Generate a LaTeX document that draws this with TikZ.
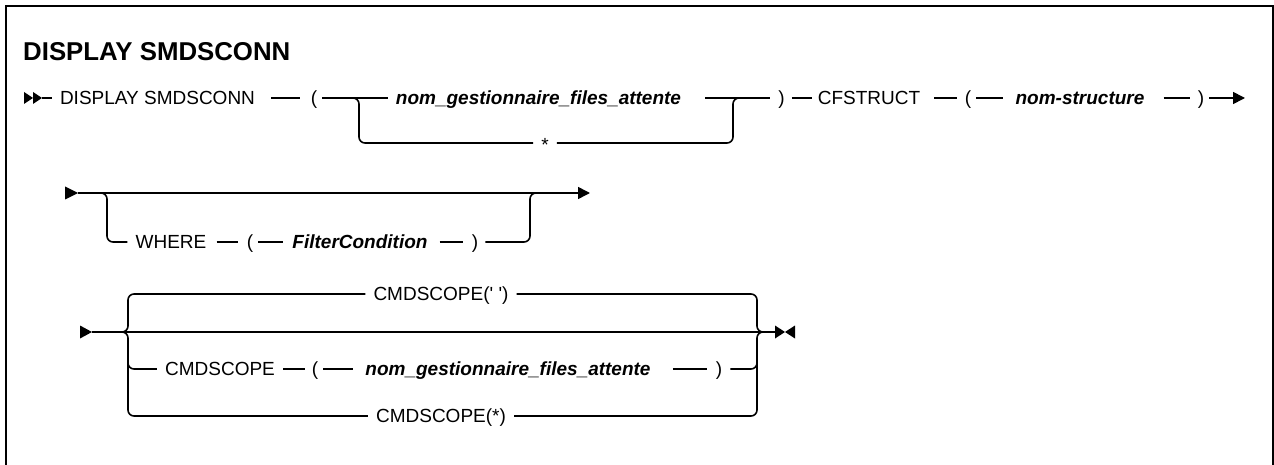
\documentclass[tikz,border=0pt]{standalone}
\usepackage{fontspec}
\setmainfont{Liberation Sans}
\usetikzlibrary{arrows.meta}
\begin{document}
\begin{tikzpicture}[x=1pt,y=-1pt,
  tok/.style={inner sep=0pt, text height=13.6pt, text depth=0pt, font=\fontsize{19}{22}\selectfont},
  vartok/.style={tok, font=\fontsize{19}{22}\selectfont\bfseries\itshape},
  ln/.style={line width=1.6pt},
  brln/.style={ln, rounded corners=6pt},
  endarrow/.style={-{Triangle[length=12pt,width=12pt]}},
]
\useasboundingbox (0,0) rectangle (1274,465);
% frame
\draw[line width=2pt] (6,470) -- (6,6) -- (1272.8,6) -- (1272.8,470);
% title
\node[anchor=base west, inner sep=0pt, font=\fontsize{25.8}{30}\selectfont\bfseries] (title) at (23,61) {DISPLAY SMDSCONN};

% ---------- line 1 ----------
\coordinate (s1) at (42,98);
\fill (s1) -- ++(-9,-6) -- ++(0,12) -- cycle;
\fill ([xshift=-9pt]s1) -- ++(-9,-6) -- ++(0,12) -- cycle;
\node[tok] (disp) at (157.5,98) {DISPLAY SMDSCONN};
\node[tok] (lp1) at (314,98) {(};
\node[vartok] (qm1) at (538.5,98) {nom\_gestionnaire\_files\_attente};
\node[tok] (star) at (545,145) {*};
\node[tok] (rp1) at (781.5,98) {)};
\node[tok] (cfs) at (869,98) {CFSTRUCT};
\node[tok] (lp2) at (968,98) {(};
\node[vartok] (ns) at (1080,98) {nom-structure};
\node[tok] (rp2) at (1201,98) {)};
\coordinate (e1) at (1245,98);
\draw[ln, shorten >=8pt] (s1) -- (disp.west);
\draw[ln, shorten <=16pt, shorten >=11pt] (disp.east) -- (lp1.west);
\draw[ln, shorten <=5pt, shorten >=8pt] (lp1.east) -- (qm1.west);
\draw[ln, shorten <=24pt, shorten >=8pt] (qm1.east) -- (rp1.west);
\draw[ln, shorten <=7pt, shorten >=6pt] (rp1.east) -- (cfs.west);
\draw[ln, shorten <=14pt, shorten >=8pt] (cfs.east) -- (lp2.west);
\draw[ln, shorten <=5pt, shorten >=12pt] (lp2.east) -- (ns.west);
\draw[ln, shorten <=19pt, shorten >=8pt] (ns.east) -- (rp2.west);
\draw[ln, endarrow, shorten <=5pt] (rp2.east) -- (e1);
\coordinate (j1) at (349,98); \coordinate (b1) at (359,143);
\coordinate (b2) at (733,143); \coordinate (j2) at (743,98);
\draw[brln, shorten >=8pt] (j1) -| (b1) -- ([yshift=2pt]star.west);
\draw[brln, shorten <=8pt] ([yshift=2pt]star.east) -- (b2) |- (j2);

% ---------- line 2 ----------
\coordinate (s2) at (78,193);
\fill (s2) -- ++(-13,-6.5) -- ++(0,13) -- cycle;
\coordinate (e2) at (590,193);
\draw[ln, endarrow] (s2) -- (e2);
\coordinate (j3) at (98,193); \coordinate (b3) at (107,242);
\node[tok] (where) at (171,242) {WHERE};
\node[tok] (lp3) at (250,242) {(};
\node[vartok] (fc) at (360,242) {FilterCondition};
\node[tok] (rp3) at (475,242) {)};
\coordinate (b4) at (530,242); \coordinate (j4) at (540,193);
\draw[brln, shorten >=8pt] (j3) -| (b3) -- (where.west);
\draw[ln, shorten <=10pt, shorten >=9pt] (where.east) -- (lp3.west);
\draw[ln, shorten <=5pt, shorten >=9pt] (lp3.east) -- (fc.west);
\draw[ln, shorten <=12pt, shorten >=9pt] (fc.east) -- (rp3.west);
\draw[brln, shorten <=7pt] (rp3.east) -- (b4) |- (j4);

% ---------- line 3 ----------
\coordinate (s3) at (92,332);
\fill (s3) -- ++(-12,-6.5) -- ++(0,13) -- cycle;
\coordinate (e3) at (775,332);
\coordinate (m3) at (785,332);
\draw[ln] (s3) -- (e3);
\fill ([yshift=6.5pt]e3) -- (m3) -- ([yshift=-6.5pt]e3) -- cycle;
\fill ([xshift=20pt,yshift=6.5pt]e3) -- (m3) -- ([xshift=20pt,yshift=-6.5pt]e3) -- cycle;
\coordinate (j5) at (121,332); \coordinate (b5) at (128,294);
\coordinate (b7) at (128,416); \coordinate (m1) at (128,355);
\coordinate (b6) at (757,294); \coordinate (j6) at (764,332);
\coordinate (b8) at (757,369); \coordinate (m2) at (757,355);
\coordinate (b9) at (757,416);
\node[tok] (cs1) at (441,294) {CMDSCOPE(\textquotesingle\ \textquotesingle)};
\node[tok] (cs2) at (220,369) {CMDSCOPE};
\node[tok] (lp4) at (315,369) {(};
\node[vartok] (qm2) at (508,369) {nom\_gestionnaire\_files\_attente};
\node[tok] (rp4) at (719,369) {)};
\node[tok] (cs3) at (441,416) {CMDSCOPE(*)};
\draw[brln, shorten >=8pt] (j5) -| (b5) -- (cs1.west);
\draw[brln, shorten <=8pt] (cs1.east) -- (b6) |- (j6);
\draw[brln, shorten >=8pt] (j5) -| (b7) -- (cs3.west);
\draw[brln, shorten <=8pt] (cs3.east) -- (b9) |- (j6);
\draw[brln, shorten >=8pt] (m1) |- (cs2.west);
\draw[ln, shorten <=8pt, shorten >=7pt] (cs2.east) -- (lp4.west);
\draw[ln, shorten <=5pt, shorten >=12pt] (lp4.east) -- (qm2.west);
\draw[ln, shorten <=22pt, shorten >=9pt] (qm2.east) -- (rp4.west);
\draw[brln, shorten <=8pt] (rp4.east) -- (b8) -- (m2);
\end{tikzpicture}
\end{document}
